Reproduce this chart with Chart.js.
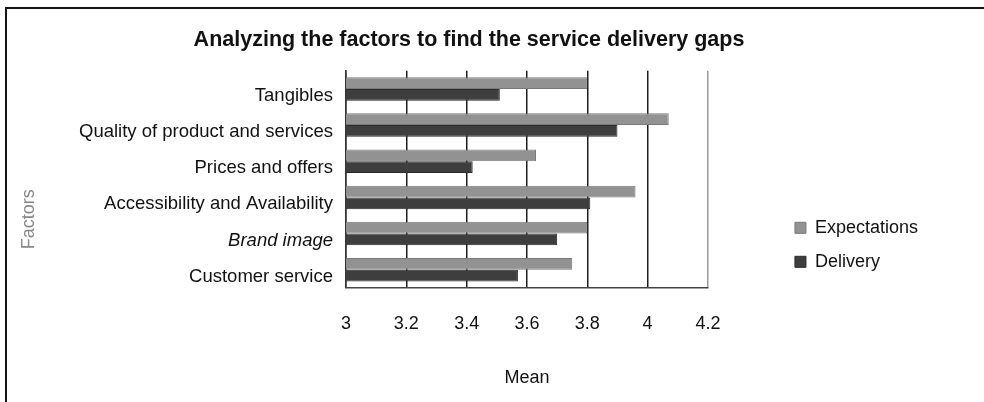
<!DOCTYPE html>
<html>
<head>
<meta charset="utf-8">
<script src="https://cdn.jsdelivr.net/npm/chart.js@4.4.1/dist/chart.umd.min.js"></script>
<style>
  body { margin: 0; background: #fff; }
  #wrap { position: relative; width: 984px; height: 402px; }
  #frame { position: absolute; left: 5px; top: 7px; width: 979px; height: 395px;
           border-left: 2px solid #151515; border-top: 2px solid #151515; pointer-events: none; }
</style>
</head>
<body>
<div id="wrap">
  <canvas id="gapChart" width="984" height="402"></canvas>
  <div id="frame"></div>
</div>
<script>
// chart data
const factors = ['Tangibles', 'Quality of product and services', 'Prices and offers',
  'Accessibility and Availability', 'Brand image', 'Customer service'];
const expectations = [3.80, 4.07, 3.63, 3.96, 3.80, 3.75];
const delivery = [3.51, 3.90, 3.42, 3.81, 3.70, 3.57];
const meanTicks = ['3', '3.2', '3.4', '3.6', '3.8', '4', '4.2'];

const fontName = '"Liberation Sans", Arial, sans-serif';
const ctx = document.getElementById('gapChart');

var myChart = new Chart(ctx, {
  type: 'bar',
  data: {
    labels: factors,
    datasets: [{
      label: 'Expectations',
      data: expectations,
      backgroundColor: '#929292',
      borderColor: '#7a7a7a',
      borderWidth: 1,
      yAxisID: 'y'
    }, {
      label: 'Delivery',
      data: delivery,
      backgroundColor: '#3e3e3e',
      borderColor: '#2a2a2a',
      borderWidth: 1,
      yAxisID: 'y'
    }]
  },
  options: {
    indexAxis: 'y',
    responsive: false,
    animation: false,
    layout: { padding: { left: 10, right: 56, top: 0, bottom: 5 } },
    datasets: { bar: { categoryPercentage: 0.65, barPercentage: 1.0 } },
    plugins: {
      title: {
        display: true,
        text: 'Analyzing the factors to find the service delivery gaps',
        color: '#111',
        font: { family: fontName, size: 21.5, weight: 'bold' },
        padding: { top: 27, bottom: 18 }
      },
      legend: {
        position: 'right',
        // empty legend title, pushes the two items down
        title: { display: true, text: ' ', font: { size: 18 }, padding: { top: 71, bottom: 0 } },
        labels: {
          color: '#111',
          font: { family: fontName, size: 18 },
          boxWidth: 11,
          boxHeight: 11,
          padding: 16
        }
      },
      tooltip: { enabled: false }
    },
    scales: {
      y: {
        position: 'left',
        afterFit: function(scale) { scale.width = 336; },
        grid: { display: false, drawTicks: false },
        border: { display: true, color: '#333', width: 1.5 },
        ticks: {
          color: '#111',
          padding: 13,
          labelOffset: 7,
          // "Brand image" is set in italics in the original
          font: function(c) {
            return { family: fontName, size: 18.5, style: c.index === 4 ? 'italic' : 'normal' };
          }
        },
        title: {
          display: true,
          text: 'Factors'.padEnd(23),
          color: '#888',
          font: { family: fontName, size: 18 },
          padding: { top: 8, bottom: 0 }
        }
      },
      // empty axis, only keeps the gap between plot and legend
      yGap: {
        type: 'category',
        position: 'right',
        afterFit: function(scale) { scale.width = 71; },
        grid: { display: false, drawTicks: false },
        border: { display: false },
        ticks: { display: false }
      },
      x: {
        min: 3,
        max: 4.2,
        z: 1, // grid lines show across the bars in the original
        grid: {
          drawTicks: false,
          lineWidth: 1.5,
          color: function(c) { return c.index === 6 ? '#9a9a9a' : '#1e1e1e'; }
        },
        border: { display: true, color: '#444', width: 1.5 },
        ticks: {
          stepSize: 0.2,
          padding: 25,
          color: '#111',
          font: { family: fontName, size: 18 },
          callback: function(value, index) { return meanTicks[index]; }
        },
        title: {
          display: true,
          text: 'Mean',
          color: '#111',
          font: { family: fontName, size: 18 },
          padding: { top: 8, bottom: 8 }
        }
      }
    }
  }
});
</script>
</body>
</html>
